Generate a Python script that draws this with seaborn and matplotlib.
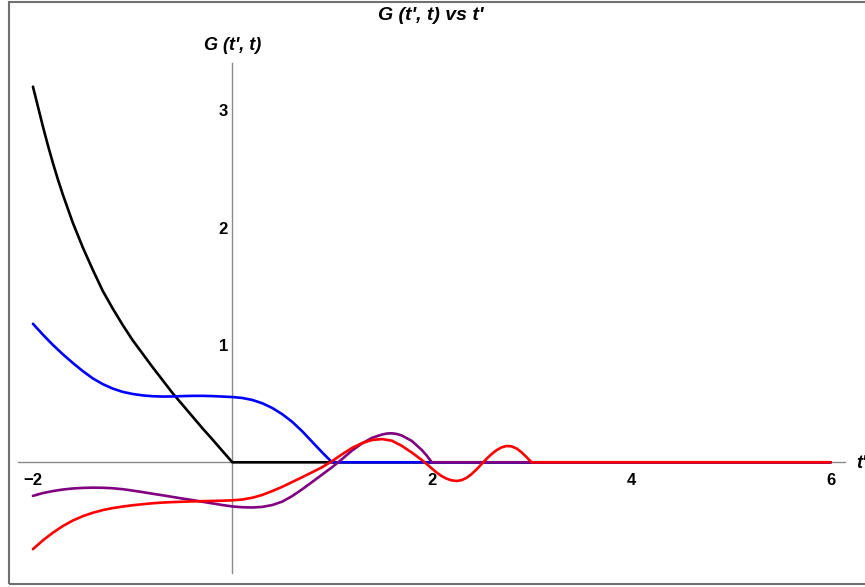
import matplotlib
matplotlib.use("Agg")
import matplotlib.pyplot as plt
import seaborn as sns
from matplotlib.patches import Rectangle
from matplotlib.ticker import FixedLocator

sns.set_style("white")
plt.rcParams['font.family'] = ['Liberation Sans', 'DejaVu Sans']
plt.rcParams['text.color'] = 'black'

# ---------------- data ----------------
t_black = [-2.0, -1.95, -1.9, -1.85, -1.8, -1.75, -1.7, -1.65, -1.6, -1.5, -1.4, -1.3,
           -1.2, -1.1, -1.0, -0.9, -0.8, -0.7, -0.6, -0.5, -0.4, -0.3, -0.2, -0.1,
           0.0, 6.0]
g_black = [3.20, 3.03, 2.86, 2.70, 2.55, 2.41, 2.28, 2.16, 2.04, 1.83, 1.64, 1.46,
           1.31, 1.17, 1.04, 0.925, 0.81, 0.70, 0.59, 0.49, 0.39, 0.29, 0.195, 0.097,
           0.0, 0.0]

t_blue = [-2.0, -1.9, -1.8, -1.7, -1.6, -1.5, -1.4, -1.3, -1.2, -1.1, -1.0,
          -0.9, -0.8, -0.7, -0.6, -0.5, -0.4, -0.3, -0.2, -0.1, 0.0,
          0.1, 0.2, 0.3, 0.4, 0.5, 0.6, 0.7, 0.8, 0.9, 1.0, 6.0]
g_blue = [1.18, 1.087, 1.00, 0.92, 0.846, 0.777, 0.715, 0.666, 0.628, 0.600, 0.582,
          0.570, 0.563, 0.560, 0.561, 0.564, 0.566, 0.566, 0.564, 0.560, 0.556,
          0.548, 0.531, 0.503, 0.463, 0.41, 0.345, 0.265, 0.175, 0.085, 0.0, 0.0]

t_purple = [-2.0, -1.9, -1.8, -1.7, -1.6, -1.5, -1.4, -1.3, -1.2, -1.1, -1.0,
            -0.9, -0.8, -0.7, -0.6, -0.5, -0.4, -0.3, -0.2, -0.1, 0.0,
            0.1, 0.2, 0.3, 0.4, 0.5, 0.6, 0.7, 0.8, 0.9, 1.0,
            1.1, 1.2, 1.3, 1.4, 1.5, 1.55, 1.6, 1.65, 1.7, 1.8, 1.9, 1.95, 2.0, 6.0]
g_purple = [-0.286, -0.262, -0.245, -0.232, -0.223, -0.218, -0.216, -0.217, -0.221, -0.229, -0.241,
            -0.254, -0.268, -0.281, -0.295, -0.309, -0.322, -0.336, -0.350, -0.364, -0.376,
            -0.383, -0.385, -0.380, -0.364, -0.335, -0.288, -0.230, -0.168, -0.105, -0.042,
            0.027, 0.100, 0.160, 0.208, 0.236, 0.245, 0.247, 0.241, 0.228, 0.182, 0.105, 0.057,
            0.0, 0.0]

t_red = [-2.0, -1.95, -1.9, -1.85, -1.8, -1.75, -1.7, -1.6, -1.5, -1.4, -1.3, -1.2, -1.1, -1.0,
         -0.9, -0.8, -0.7, -0.6, -0.5, -0.4, -0.3, -0.2, -0.1, 0.0,
         0.1, 0.2, 0.3, 0.4, 0.5, 0.6, 0.7, 0.8, 0.9, 1.0,
         1.1, 1.2, 1.3, 1.4, 1.5, 1.6, 1.7, 1.8, 1.9, 1.95,
         2.0, 2.05, 2.1, 2.15, 2.2, 2.25, 2.3, 2.35, 2.4, 2.45,
         2.5, 2.55, 2.6, 2.65, 2.7, 2.75, 2.8, 2.85, 2.9, 2.95, 3.0, 6.0]
g_red = [-0.74, -0.702, -0.665, -0.632, -0.600, -0.571, -0.543, -0.496, -0.459, -0.430, -0.407,
         -0.390, -0.377, -0.366,
         -0.357, -0.349, -0.343, -0.339, -0.336, -0.333, -0.331, -0.329, -0.327, -0.324,
         -0.317, -0.302, -0.278, -0.245, -0.209, -0.168, -0.127, -0.085, -0.042, 0.010,
         0.068, 0.122, 0.163, 0.190, 0.198, 0.184, 0.140, 0.083, 0.020, -0.015,
         -0.052, -0.088, -0.118, -0.140, -0.154, -0.159, -0.152, -0.132, -0.100, -0.060,
         -0.015, 0.030, 0.070, 0.103, 0.127, 0.139, 0.136, 0.118, 0.086, 0.045, 0.0, 0.0]

curve_colors = ["black", "#0000ff", "#800080", "#ff0000"]

x_major = [-2, 2, 4, 6]
x_major_labels = ["\u22122", "2", "4", "6"]
x_minor = [-1.5, -1, -0.5, 0.5, 1, 1.5, 2.5, 3, 3.5, 4.5, 5, 5.5]
y_major = [1, 2, 3]
y_major_labels = ["1", "2", "3"]
y_minor = [-0.8, -0.6, -0.4, -0.2, 0.2, 0.4, 0.6, 0.8, 1.2, 1.4, 1.6, 1.8,
           2.2, 2.4, 2.6, 2.8, 3.2, 3.4]

title_text = "G (t', t) vs t'"
ylabel_text = "G (t', t)"
xlabel_text = "t'"

# ---------------- figure ----------------
W, H = 865, 587
fig = plt.figure(figsize=(W / 100, H / 100), dpi=100)
ax = fig.add_axes([17.5 / W, 14 / H, 827.5 / W, 510.3 / H])
ax.set_facecolor("white")

for t, g, c in zip([t_black, t_blue, t_purple, t_red],
                   [g_black, g_blue, g_purple, g_red], curve_colors):
    sns.lineplot(x=t, y=g, color=c, linewidth=1.9, ax=ax, sort=False,
                 estimator=None, zorder=3, solid_joinstyle="round",
                 solid_capstyle="round")

ax.set_xlim(-2.155, 6.145)
ax.set_ylim(-0.943, 3.404)
ax.set_xlabel("")
ax.set_ylabel("")

axis_gray = "#8a8a8a"
for s in ["top", "right"]:
    ax.spines[s].set_visible(False)
ax.spines["left"].set_position(("data", 0))
ax.spines["bottom"].set_position(("data", 0))
for s in ["left", "bottom"]:
    ax.spines[s].set_color(axis_gray)
    ax.spines[s].set_linewidth(1.0)
    ax.spines[s].set_zorder(2)

ax.set_xticks(x_major, x_major_labels, fontweight="bold", fontsize=12)
ax.set_yticks(y_major, y_major_labels, fontweight="bold", fontsize=12)
ax.xaxis.set_minor_locator(FixedLocator(x_minor))
ax.yaxis.set_minor_locator(FixedLocator(y_minor))
ax.tick_params(which="both", direction="in", color=axis_gray, width=0.8,
               labelcolor="black")
ax.tick_params(which="major", length=3.2)
ax.tick_params(which="minor", length=1.8)
ax.tick_params(axis="x", which="major", pad=7.5)
ax.tick_params(axis="y", which="major", pad=3.3)

fig.text(431 / W, 1 - 15 / H, title_text, ha="center", va="center",
         fontsize=14, fontweight="bold", fontstyle="italic", color="black")
fig.text(233 / W, 1 - 45 / H, ylabel_text, ha="center", va="center",
         fontsize=13, fontweight="bold", fontstyle="italic", color="black")
fig.text(856 / W, 1 - 463 / H, xlabel_text, ha="left", va="center",
         fontsize=13, fontweight="bold", fontstyle="italic", color="black")

fig.patches.append(Rectangle((9 / W, 3 / H), 1.2, (584 - 2) / H, fill=False,
                             edgecolor="#707070", linewidth=1.5,
                             transform=fig.transFigure, figure=fig))

fig.savefig("out.png", dpi=100)
